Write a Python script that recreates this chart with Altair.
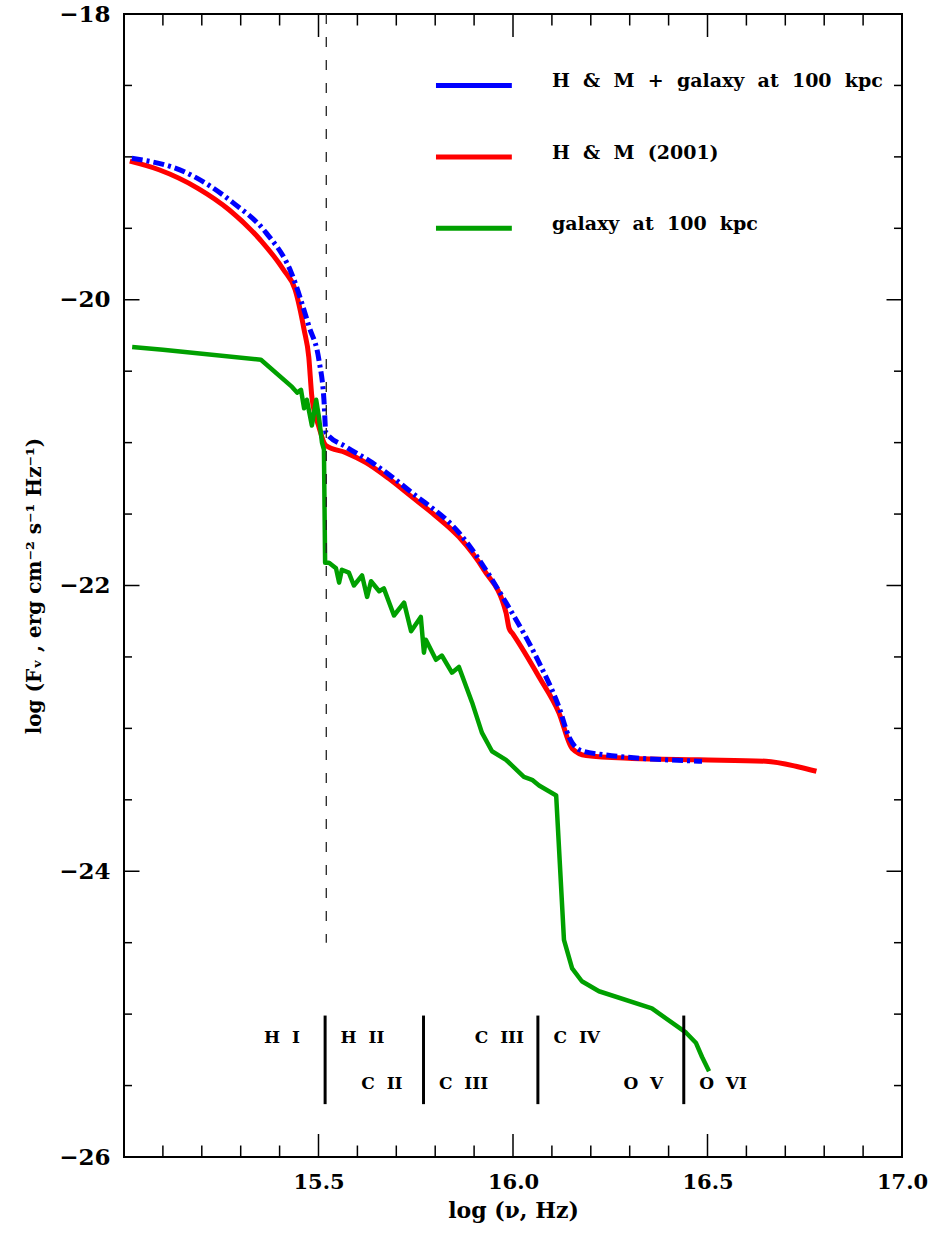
import altair as alt
import pandas as pd

# ---------------- data ----------------
red_x = [15.015, 15.09, 15.19, 15.27, 15.35, 15.41, 15.44, 15.463, 15.475, 15.483, 15.501, 15.519,
         15.57, 15.622, 15.68, 15.740, 15.80, 15.861, 15.925, 15.982, 15.99, 16.0, 16.067, 16.118,
         16.152, 16.188, 16.306, 16.478, 16.65, 16.735, 16.78]
red_y = [-19.03, -19.09, -19.22, -19.37, -19.58, -19.79, -19.93, -20.21, -20.40, -20.68, -20.89, -21.02,
         -21.07, -21.14, -21.25, -21.38, -21.51, -21.66, -21.89, -22.19, -22.30, -22.34, -22.64, -22.89,
         -23.14, -23.19, -23.21, -23.22, -23.23, -23.27, -23.30]

blue_x = [15.02, 15.16, 15.28, 15.365, 15.43, 15.476, 15.501, 15.514, 15.519, 15.571, 15.638,
          15.740, 15.861, 15.982, 16.067, 16.118, 16.144, 16.17, 16.221, 16.486]
blue_y = [-19.01, -19.11, -19.32, -19.53, -19.81, -20.19, -20.42, -20.70, -20.93, -21.03, -21.14,
          -21.35, -21.63, -22.12, -22.54, -22.85, -23.06, -23.15, -23.18, -23.23]

green_x = [15.021, 15.10, 15.352, 15.432, 15.445, 15.455, 15.463, 15.470, 15.483, 15.494, 15.501,
           15.509, 15.514, 15.517, 15.527, 15.545, 15.553, 15.560, 15.578, 15.591, 15.612, 15.625,
           15.635, 15.656, 15.668, 15.694, 15.720, 15.738, 15.763, 15.771, 15.776, 15.802, 15.817,
           15.843, 15.861, 15.895, 15.920, 15.946, 15.982, 16.028, 16.049, 16.067, 16.111, 16.131,
           16.152, 16.177, 16.221, 16.357, 16.445, 16.470, 16.486, 16.504]
green_y = [-20.33, -20.35, -20.42, -20.61, -20.65, -20.63, -20.76, -20.70, -20.88, -20.70, -20.82,
           -21.00, -21.05, -21.84, -21.84, -21.88, -21.98, -21.89, -21.91, -22.00, -21.93, -22.08,
           -21.97, -22.04, -22.02, -22.21, -22.12, -22.32, -22.22, -22.47, -22.38, -22.52, -22.49,
           -22.61, -22.57, -22.82, -23.03, -23.16, -23.22, -23.34, -23.36, -23.40, -23.47, -24.48,
           -24.68, -24.77, -24.84, -24.96, -25.13, -25.20, -25.30, -25.40]

lyman_edge = 15.52
lyman_y = [-18.0, -24.5]

edge_x = [15.517, 15.77, 16.064, 16.439]
edge_y = [-25.01, -25.63]

NB = " \u00a0"  # wide word gap (non-collapsing)
ion_labels = ["H" + NB + "I", "H" + NB + "II", "C" + NB + "III", "C" + NB + "IV",
              "C" + NB + "II", "C" + NB + "III", "O" + NB + "V", "O" + NB + "VI"]
ion_x = [15.406, 15.613, 15.965, 16.164, 15.663, 15.873, 16.335, 16.54]
ion_y = [-25.17, -25.17, -25.17, -25.17, -25.49, -25.49, -25.49, -25.49]

legend_labels = [NB.join(["H", "&", "M", "+", "galaxy", "at", "100", "kpc"]),
                 NB.join(["H", "&", "M", "(2001)"]),
                 NB.join(["galaxy", "at", "100", "kpc"])]
legend_colors = ["#0000ff", "#ff0000", "#00a000"]
legend_y = [-18.50, -19.00, -19.50]
legend_x0, legend_x1, legend_tx = 15.802, 15.997, 16.10

x_major = [15.5, 16.0, 16.5]
x_minor = [15.1, 15.2, 15.3, 15.4, 15.6, 15.7, 15.8, 15.9, 16.1, 16.2, 16.3, 16.4,
           16.6, 16.7, 16.8, 16.9]
y_major = [-24.0, -22.0, -20.0]
y_minor = [-25.5, -25.0, -24.5, -23.5, -23.0, -22.5, -21.5, -21.0, -20.5, -19.5, -19.0, -18.5]
x_labels = [15.5, 16.0, 16.5, 17.0]
y_labels = [-26, -24, -22, -20, -18]

# ---------------- layout ----------------
W, H = 778, 1143
FONT = "DejaVu Serif"
xs = alt.Scale(domain=[15.0, 17.0], nice=False, zero=False)
ys = alt.Scale(domain=[-26.0, -18.0], nice=False, zero=False)

X_AX = alt.Axis(values=x_labels, format=".1f", title="log (ν, Hz)", domain=False, ticks=False,
                grid=False, labelFont=FONT, labelFontSize=21, labelFontWeight="bold",
                labelColor="black", labelPadding=14, titleFont=FONT, titleFontSize=22,
                titleFontWeight="bold", titleColor="black", titlePadding=8, labelFlush=False)
Y_AX = alt.Axis(values=y_labels, format="d", title="log (Fᵥ , erg cm⁻² s⁻¹ Hz⁻¹)", domain=False,
                ticks=False, grid=False, labelFont=FONT, labelFontSize=23, labelFontWeight="bold",
                labelColor="black", labelPadding=14, titleFont=FONT, titleFontSize=20,
                titleFontWeight="bold", titleColor="black", titlePadding=14, labelFlush=False)


def curve(xv, yv, color, width, dash=None, interp="linear"):
    df = pd.DataFrame({"x": xv, "y": yv, "o": list(range(len(xv)))})
    kw = dict(color=color, strokeWidth=width, strokeJoin="round", interpolate=interp)
    if dash:
        kw["strokeDash"] = dash
    return alt.Chart(df).mark_line(**kw).encode(
        x=alt.X("x:Q", scale=xs, axis=X_AX), y=alt.Y("y:Q", scale=ys, axis=Y_AX), order="o:Q")


red = curve(red_x, red_y, "#ff0000", 5, interp="monotone")
blue = curve(blue_x, blue_y, "#0000ff", 5, [11, 4, 3, 4], interp="monotone")
green = curve(green_x, green_y, "#00a000", 4.5)

lyman = alt.Chart(pd.DataFrame({"x": [lyman_edge], "y": [lyman_y[0]], "y2": [lyman_y[1]]})).mark_rule(
    color="#222222", strokeWidth=1.3, strokeDash=[10, 13]).encode(
    x=alt.X("x:Q", scale=xs), y=alt.Y("y:Q", scale=ys), y2="y2:Q")

edges = alt.Chart(pd.DataFrame({"x": edge_x, "y": [edge_y[0]] * 4, "y2": [edge_y[1]] * 4})).mark_rule(
    color="black", strokeWidth=3).encode(x=alt.X("x:Q", scale=xs), y=alt.Y("y:Q", scale=ys), y2="y2:Q")

ions = alt.Chart(pd.DataFrame({"x": ion_x, "y": ion_y, "t": ion_labels})).mark_text(
    font=FONT, fontSize=17, fontWeight="bold", color="black", align="center", baseline="middle").encode(
    x=alt.X("x:Q", scale=xs), y=alt.Y("y:Q", scale=ys), text="t:N")

leg_df = pd.DataFrame({"x": [legend_x0] * 3, "x2": [legend_x1] * 3, "y": legend_y,
                       "t": legend_labels, "c": legend_colors, "tx": [legend_tx] * 3})
leg_lines = alt.Chart(leg_df).mark_rule(strokeWidth=5).encode(
    x=alt.X("x:Q", scale=xs), x2="x2:Q", y=alt.Y("y:Q", scale=ys),
    color=alt.Color("c:N", scale=None))
leg_text = alt.Chart(leg_df).mark_text(
    font=FONT, fontSize=19, fontWeight="bold", color="black", align="left", baseline="middle", dy=-4).encode(
    x=alt.X("tx:Q", scale=xs), y=alt.Y("y:Q", scale=ys), text="t:N")


def xticks(vals, L):
    d = pd.DataFrame({"v": vals})
    b = alt.Chart(d).mark_rule(color="black", strokeWidth=1.5).encode(
        x=alt.X("v:Q", scale=xs), y=alt.value(H), y2=alt.value(H - L))
    t = alt.Chart(d).mark_rule(color="black", strokeWidth=1.5).encode(
        x=alt.X("v:Q", scale=xs), y=alt.value(0), y2=alt.value(L))
    return [b, t]


def yticks(vals, L):
    d = pd.DataFrame({"v": vals})
    l = alt.Chart(d).mark_rule(color="black", strokeWidth=1.5).encode(
        y=alt.Y("v:Q", scale=ys), x=alt.value(0), x2=alt.value(L))
    r = alt.Chart(d).mark_rule(color="black", strokeWidth=1.5).encode(
        y=alt.Y("v:Q", scale=ys), x=alt.value(W), x2=alt.value(W - L))
    return [l, r]


ticks = xticks(x_major, 23) + xticks(x_minor, 11.5) + yticks(y_major, 15.5) + yticks(y_minor, 8)

chart = alt.layer(
    red, blue, green, lyman, edges, ions, leg_lines, leg_text, *ticks
).properties(
    width=W, height=H,
    autosize=alt.AutoSizeParams(type="none"),
    padding={"left": 124, "top": 14, "right": 36, "bottom": 83},
    background="white",
).configure_view(stroke="black", strokeWidth=2)

chart.save("out.html", embed_options={"renderer": "svg", "actions": False})
